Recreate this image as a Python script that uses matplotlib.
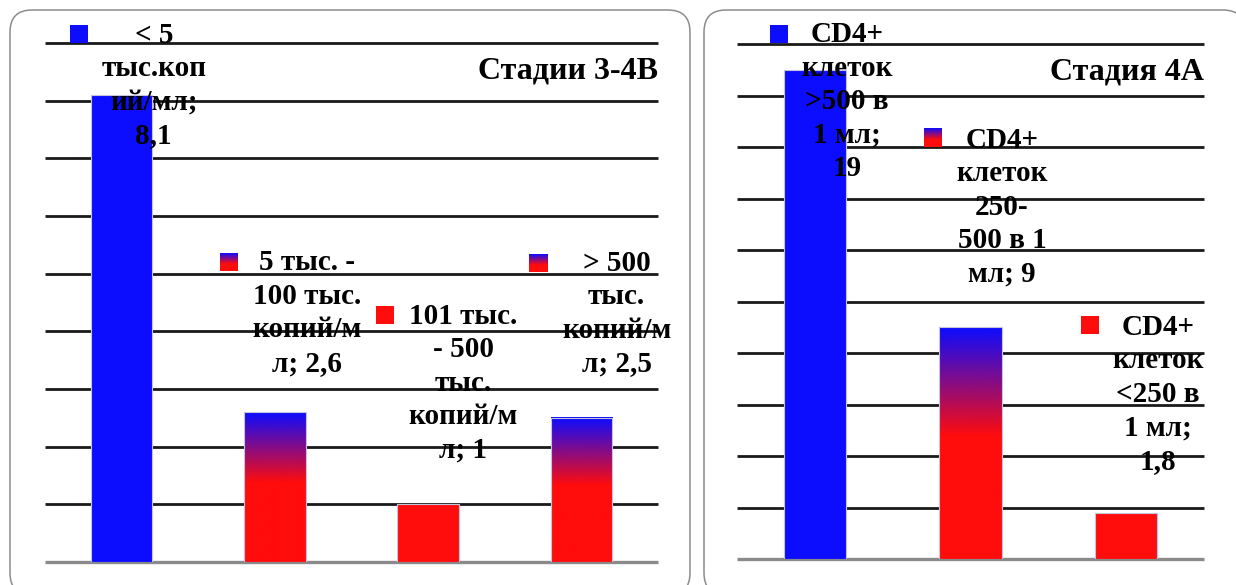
import numpy as np
import matplotlib.pyplot as plt
from matplotlib.patches import FancyBboxPatch, Rectangle

###########################
# Data
###########################

left_title = 'Стадии 3-4В'
left_values = [8.1, 2.6, 1, 2.5]
left_labels = ['< 5\nтыс.коп\nий/мл;\n8,1',
               '5 тыс. -\n100 тыс.\nкопий/м\nл; 2,6',
               '101 тыс.\n- 500\nтыс.\nкопий/м\nл; 1',
               '> 500\nтыс.\nкопий/м\nл; 2,5']
left_fill = ['blue', 'grad', 'red', 'grad']

right_title = 'Стадия 4А'
right_values = [19, 9, 1.8]
right_labels = ['CD4+\nклеток\n>500 в\n1 мл;\n19',
                'CD4+\nклеток\n250-\n500 в 1\nмл; 9',
                'CD4+\nклеток\n<250 в\n1 мл;\n1,8']
right_fill = ['blue', 'grad', 'red']

###########################
# Layout (label / key placement, as in the original)
###########################

left_label_pos = [(0.21, 8.26), (1.21, 4.32), (2.23, 3.10), (3.23, 4.31)]
left_key_pos = [(-0.278, 9.155), (0.70, 5.20), (1.719, 4.28), (2.717, 5.18)]
right_label_pos = [(0.207, 17.76), (1.202, 13.66), (2.204, 6.40)]
right_key_pos = [(-0.23, 20.39), (0.759, 16.35), (1.768, 9.09)]

BLUE = np.array([12, 12, 255]) / 255
RED = np.array([255, 12, 12]) / 255
FONT = dict(family='Liberation Serif', fontweight='bold', fontsize=21)
W, H = 1236, 585


def gradient(n=200, stop=0.47):
    t = np.linspace(0, 1, n)
    mix = np.clip(t / stop, 0, 1)[:, None]
    img = BLUE * (1 - mix) + RED * mix
    return img[:, None, :]


def draw_panel(ax, values, labels, fill, label_pos, key_pos, title, ymax, step):
    n = len(values)
    x = np.arange(n)
    ax.set_xlim(-0.5, n - 0.5)
    ax.set_ylim(0, ymax)
    ax.axis('off')

    ax.hlines(np.arange(step, ymax + step / 2, step), -0.5, n - 0.5,
              color='#1a1a1a', lw=2.0, zorder=1, clip_on=False)
    ax.hlines(0, -0.5, n - 0.5, color='#8a8a8a', lw=2.4, zorder=1, clip_on=False)

    bars = ax.bar(x, values, width=0.4, zorder=2, edgecolor='#c4c4dc', linewidth=0.8)
    for bar, f in zip(bars, fill):
        if f == 'blue':
            bar.set_facecolor(BLUE)
        elif f == 'red':
            bar.set_facecolor(RED)
        else:
            bar.set_facecolor('none')
            bx, by, bw, bh = bar.get_x(), bar.get_y(), bar.get_width(), bar.get_height()
            ax.imshow(gradient(), extent=(bx, bx + bw, by, by + bh), aspect='auto',
                      origin='upper', zorder=1.9, interpolation='bilinear')

    # key size: 18 px square
    bb = ax.get_position()
    kx = 18 / (bb.width * W) * n
    ky = 18 / (bb.height * H) * ymax
    for (cx, cy), f in zip(key_pos, fill):
        if f == 'grad':
            ax.imshow(gradient(stop=0.6), extent=(cx - kx / 2, cx + kx / 2, cy - ky / 2, cy + ky / 2),
                      aspect='auto', origin='upper', zorder=3, clip_on=False,
                      interpolation='bilinear')
        else:
            ax.add_patch(Rectangle((cx - kx / 2, cy - ky / 2), kx, ky,
                                   facecolor=BLUE if f == 'blue' else RED,
                                   edgecolor='none', zorder=3, clip_on=False))

    for (lx, ly), text in zip(label_pos, labels):
        ax.text(lx, ly, text, ha='center', va='center', linespacing=1.31,
                zorder=4, clip_on=False, **FONT)

    ax.text(1.0, 0.946, title, transform=ax.transAxes, ha='right', va='center',
            family='Liberation Serif', fontweight='bold', fontsize=23)
    ax.set_xlim(-0.5, n - 0.5)
    ax.set_ylim(0, ymax)


fig = plt.figure(figsize=(W / 100, H / 100), dpi=100)

# rounded frames around each panel
for x0, x1 in [(10, 690), (704, 1245)]:
    fig.patches.append(FancyBboxPatch((x0 / 100, -0.1), (x1 - x0) / 100, 5.85,
                                      boxstyle='round,pad=0,rounding_size=0.22',
                                      transform=fig.dpi_scale_trans, zorder=-1,
                                      facecolor='white', edgecolor='#8c8c8c', lw=1.1))

ax1 = fig.add_axes([45 / W, 23 / H, 613 / W, 519 / H])
ax2 = fig.add_axes([737 / W, 26 / H, 467 / W, 515 / H])

draw_panel(ax1, left_values, left_labels, left_fill, left_label_pos, left_key_pos,
           left_title, 9, 1)
draw_panel(ax2, right_values, right_labels, right_fill, right_label_pos, right_key_pos,
           right_title, 20, 2)

plt.savefig('out.png', dpi=100)
